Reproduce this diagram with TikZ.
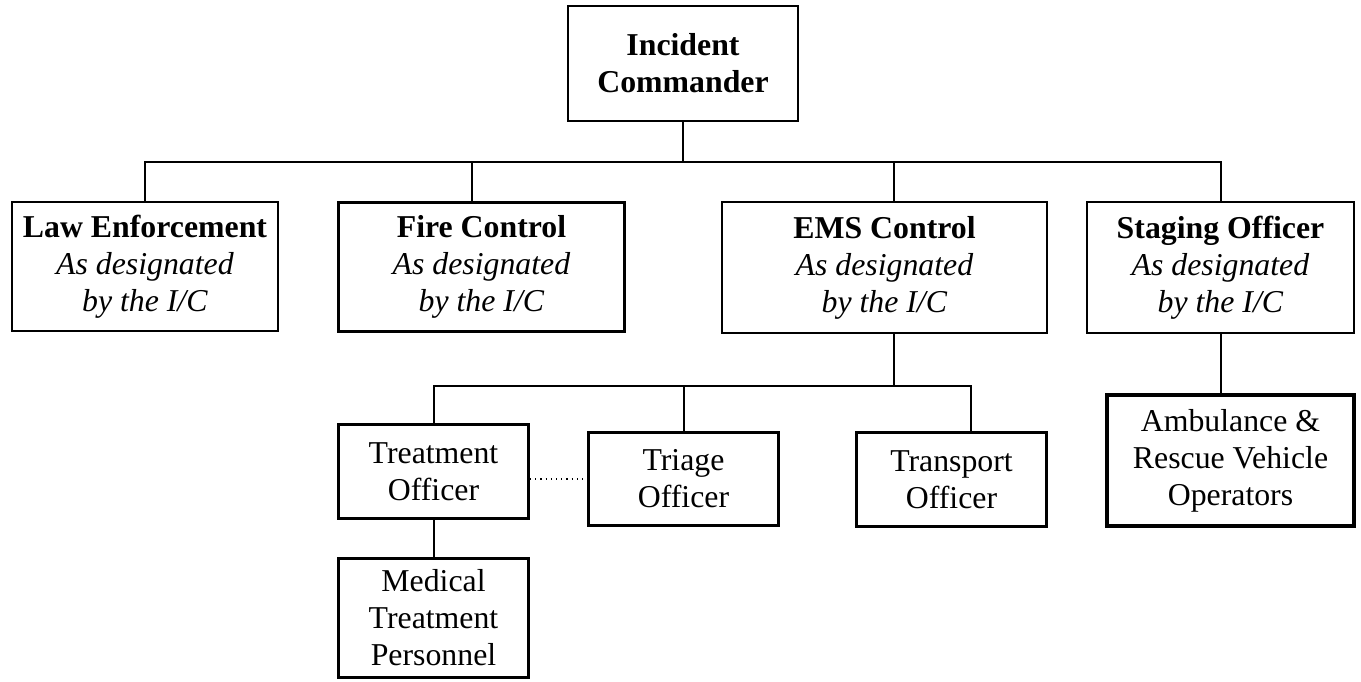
\documentclass[tikz,border=0pt]{standalone}
\usepackage{fontspec}
\setmainfont{Liberation Serif}

\begin{document}
\begin{tikzpicture}[x=0.5pt, y=-0.5pt,
      box/.style={draw, line width=1pt, inner sep=0pt, align=center,
                  font=\fontsize{15.9}{18.5}\selectfont},
      boxb/.style={box, line width=1.5pt},
      link/.style={line width=1pt}
  ]
    \useasboundingbox (0,0) rectangle (1361,681);
    % top level
    \node[box, minimum width=115pt, minimum height=57.5pt] (ic) at (683,63.5)
         {\textbf{Incident}\\ \textbf{Commander}};
    \node[box, minimum width=133pt, minimum height=64.5pt] (law) at (145,266.5)
         {\textbf{Law Enforcement}\\ \textit{As designated}\\ \textit{by the I/C}};
    \node[boxb, minimum width=143pt, minimum height=64.5pt] (fire) at (481.5,267)
         {\textbf{Fire Control}\\ \textit{As designated}\\ \textit{by the I/C}};
    \node[box, minimum width=162.5pt, minimum height=65.5pt] (ems) at (884.5,267.5)
         {\textbf{EMS Control}\\ \textit{As designated}\\ \textit{by the I/C}};
    \node[box, minimum width=133.5pt, minimum height=65.5pt] (stag) at (1220.5,267.5)
         {\textbf{Staging Officer}\\ \textit{As designated}\\ \textit{by the I/C}};
    % EMS units
    \node[boxb, minimum width=95pt, minimum height=47pt] (treat) at (433.5,471.5)
         {Treatment\\ Officer};
    \node[boxb, minimum width=95pt, minimum height=46.5pt] (tri) at (683.5,479)
         {Triage\\ Officer};
    \node[boxb, minimum width=95pt, minimum height=47pt] (trans) at (951.5,479.5)
         {Transport\\ Officer};
    \node[boxb, minimum width=95pt, minimum height=59.5pt] (med) at (433.5,618)
         {Medical\\ Treatment\\ Personnel};
    \node[boxb, line width=2pt, minimum width=123.5pt, minimum height=65.5pt] (amb) at (1230.5,460.5)
         {Ambulance \&\\ Rescue Vehicle\\ Operators};
    % connectors
    \coordinate (bus) at (683,162);
    \coordinate (ebus) at (894,386);
    \draw[link] (ic.south) -- (bus);
    \draw[link] (law.north) |- (bus) -| (stag.north);
    \draw[link] ([xshift=-4.75pt]fire.north) -- ([xshift=-4.75pt]fire.north |- bus);
    \draw[link] ([xshift=4.75pt]ems.north) -- ([xshift=4.75pt]ems.north |- bus);
    \draw[link] (ems.south -| ebus) -- (ebus);
    \draw[link] (treat.north) |- (ebus) -| ([xshift=9.75pt]trans.north);
    \draw[link] (tri.north) -- (tri.north |- ebus);
    \draw[link] (treat.south) -- (med.north);
    \draw[link] (stag.south) -- (stag.south |- amb.north);
    \draw[dotted, line width=0.6pt] (treat.east |- tri) -- (tri.west);
  \end{tikzpicture}
\end{document}
